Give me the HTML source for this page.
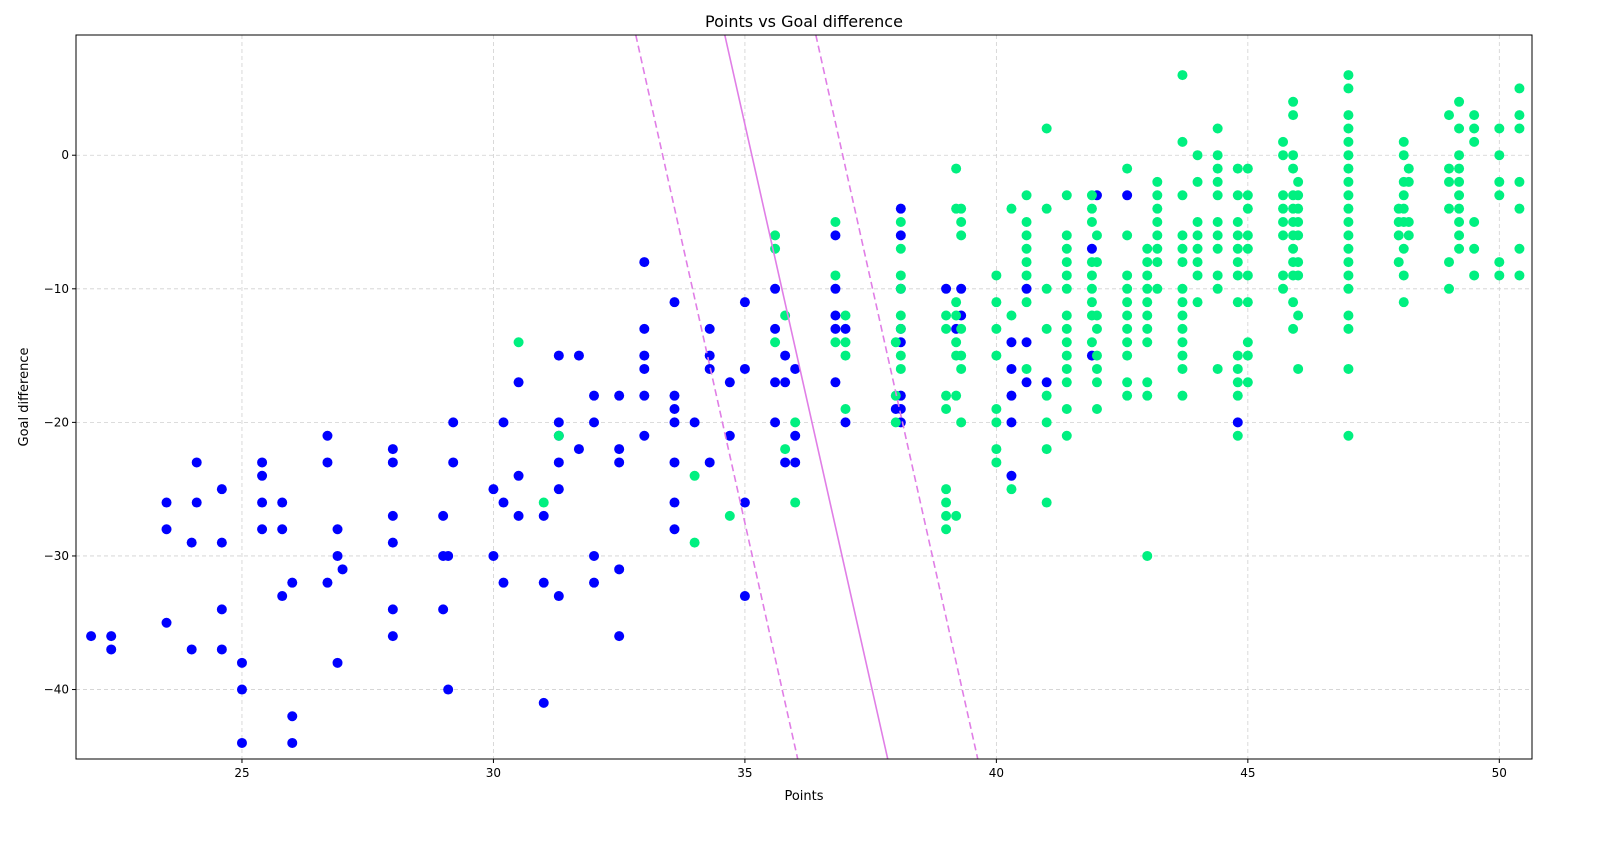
<!DOCTYPE html>
<html><head><meta charset="utf-8"><style>
html,body{margin:0;padding:0;background:#fff;}
svg{display:block;font-family:"DejaVu Sans","Liberation Sans",sans-serif;}
</style></head><body>
<svg id="chart" width="1601" height="842" viewBox="0 0 1601 842" xmlns="http://www.w3.org/2000/svg">
<text x="804" y="27" font-size="16" text-anchor="middle">Points vs Goal difference</text>
<text x="804" y="800" font-size="13" text-anchor="middle">Points</text>
<text transform="translate(28,397) rotate(-90)" font-size="13" text-anchor="middle">Goal difference</text>
<g id="grid"></g>
<g id="ticks"></g>
<g id="blue"></g>
<g id="green"></g>
<g id="lines"></g>
<rect x="76" y="35" width="1456" height="724" fill="none" stroke="#000" stroke-width="1"/>
</svg>
<script>
const xTicks=[25,30,35,40,45,50];
const yTicks=[0,-10,-20,-30,-40];
const bluePts=[[22,-36],[22.4,-36],[22.4,-37],[23.5,-26],[23.5,-28],[23.5,-35],[24,-29],[24,-37],[24.1,-23],[24.1,-26],[24.6,-25],[24.6,-29],[24.6,-34],[24.6,-37],[25,-38],[25,-40],[25,-44],[25.4,-23],[25.4,-24],[25.4,-26],[25.4,-28],[25.8,-26],[25.8,-28],[25.8,-33],[26,-32],[26,-42],[26,-44],[26.7,-21],[26.7,-23],[26.7,-32],[26.9,-28],[26.9,-30],[26.9,-38],[27,-31],[28,-27],[28,-22],[28,-23],[28,-29],[28,-34],[28,-36],[29,-27],[29,-30],[29,-34],[29.1,-30],[29.1,-40],[29.2,-20],[29.2,-23],[30,-25],[30,-30],[30.2,-20],[30.2,-26],[30.2,-32],[30.5,-17],[30.5,-24],[30.5,-27],[31,-27],[31,-32],[31,-41],[31.3,-15],[31.3,-20],[31.3,-21],[31.3,-23],[31.3,-25],[31.3,-33],[31.7,-15],[31.7,-22],[32,-18],[32,-20],[32,-30],[32,-32],[32.5,-18],[32.5,-22],[32.5,-23],[32.5,-31],[32.5,-36],[33,-8],[33,-13],[33,-15],[33,-16],[33,-18],[33,-21],[33.6,-11],[33.6,-18],[33.6,-19],[33.6,-20],[33.6,-23],[33.6,-26],[33.6,-28],[34,-20],[34.3,-13],[34.3,-15],[34.3,-16],[34.3,-23],[34.7,-17],[34.7,-21],[35,-11],[35,-16],[35,-26],[35,-33],[35.6,-10],[35.6,-13],[35.6,-17],[35.6,-20],[35.8,-15],[35.8,-17],[35.8,-23],[36,-16],[36,-21],[36,-23],[36.8,-6],[36.8,-10],[36.8,-12],[36.8,-13],[36.8,-17],[37,-13],[37,-20],[38,-19],[38.1,-4],[38.1,-6],[38.1,-10],[38.1,-13],[38.1,-14],[38.1,-18],[38.1,-19],[38.1,-20],[39,-10],[39.2,-13],[39.3,-10],[39.3,-12],[40.3,-16],[40.3,-18],[40.3,-20],[40.3,-24],[40.3,-14],[40.6,-10],[40.6,-14],[40.6,-17],[41,-17],[41.9,-7],[41.9,-15],[42,-3],[42.6,-3],[44.8,-20]];
const greenX=[30.5,31,31.3,34,34.7,35.6,35.8,36,36.8,37,38,38.1,39,39.2,39.3,40,40.3,40.6,41,41.4,41.9,42,42.6,43,43.2,43.7,44,44.4,44.8,45,45.7,45.9,46,47,48,48.1,48.2,49,49.2,49.5,50,50.4];
const greenY=[[-14],[-26],[-21],[-24,-29],[-27],[-6,-7,-14],[-12,-22],[-20,-26],[-5,-9,-14],[-12,-14,-15,-19],[-14,-18,-20],[-5,-7,-9,-10,-12,-13,-15,-16],[-12,-13,-18,-19,-25,-26,-27,-28],[-1,-4,-11,-12,-14,-15,-18,-27],[-4,-5,-6,-13,-15,-16,-20],[-9,-11,-13,-15,-19,-20,-22,-23],[-4,-12,-25],[-3,-5,-6,-7,-8,-9,-11,-16],[2,-4,-10,-13,-18,-20,-22,-26],[-3,-6,-7,-8,-9,-10,-12,-13,-14,-15,-16,-17,-19,-21],[-3,-4,-5,-8,-9,-10,-11,-12,-14],[-6,-8,-12,-13,-15,-16,-17,-19],[-1,-6,-9,-10,-11,-12,-13,-14,-15,-17,-18],[-7,-8,-9,-10,-11,-12,-13,-14,-17,-18,-30],[-2,-3,-4,-5,-6,-7,-8,-10],[6,1,-3,-6,-7,-8,-10,-11,-12,-13,-14,-15,-16,-18],[0,-2,-5,-6,-7,-8,-9,-11],[2,0,-1,-2,-3,-5,-6,-7,-9,-10,-16],[-1,-3,-5,-6,-7,-8,-9,-11,-15,-16,-17,-18,-21],[-1,-3,-4,-6,-7,-9,-11,-14,-15,-17],[1,0,-3,-4,-5,-6,-9,-10],[4,3,0,-1,-3,-4,-5,-6,-7,-8,-9,-11,-13],[-2,-3,-4,-5,-6,-8,-9,-12,-16],[6,5,3,2,1,0,-1,-2,-3,-4,-5,-6,-7,-8,-9,-10,-12,-13,-16,-21],[-4,-5,-6,-8],[1,0,-2,-3,-4,-5,-7,-9,-11],[-1,-2,-5,-6],[3,-1,-2,-4,-8,-10],[4,2,0,-1,-2,-3,-4,-5,-6,-7],[3,2,1,-5,-7,-9],[2,0,-2,-3,-8,-9],[5,3,2,-2,-4,-7,-9]];
const lineSolid=[[34.6,9],[37.84,-45.2]];
const lineDashLeft=[[32.83,9],[36.05,-45.2]];
const lineDashRight=[[36.41,9],[39.63,-45.2]];

const NS="http://www.w3.org/2000/svg";
const X0=21.7,X1=50.65,Y0=-45.2,Y1=9,L=76,R=1532,T=35,B=759;
const sx=v=>L+(v-X0)/(X1-X0)*(R-L);
const sy=v=>B-(v-Y0)/(Y1-Y0)*(B-T);
function mk(tag,attrs,parent){const e=document.createElementNS(NS,tag);for(const k in attrs)e.setAttribute(k,attrs[k]);parent.appendChild(e);return e;}
const grid=document.getElementById('grid'),ticks=document.getElementById('ticks');
xTicks.forEach(t=>{const x=sx(t);
 const g=mk('line',{x1:x,x2:x,y1:T,y2:B,stroke:'#d0d0d0','stroke-dasharray':'4,3','stroke-width':0.8},grid);
 
 
 const tk=mk('line',{x1:x,x2:x,y1:B,y2:B+4,stroke:'#000'},ticks);
 
 
 const tx=mk('text',{x:x,y:B+18,'font-size':12,'text-anchor':'middle'},ticks);tx.textContent=t;
 
 });
yTicks.forEach(t=>{const y=sy(t);
 const g=mk('line',{x1:L,x2:R,y1:y,y2:y,stroke:'#d0d0d0','stroke-dasharray':'4,3','stroke-width':0.8},grid);
 
 
 const tk=mk('line',{x1:L-4,x2:L,y1:y,y2:y,stroke:'#000'},ticks);
 
 
 const tx=mk('text',{x:L-7,y:y+4,'font-size':12,'text-anchor':'end'},ticks);tx.textContent=t<0?'\u2212'+(-t):t;
 
 });
const bg=document.getElementById('blue');
bluePts.forEach(p=>{const c=mk('circle',{cx:sx(p[0]),cy:sy(p[1]),r:5,fill:'#0000ff'},bg);
 
 });
const gg=document.getElementById('green');
greenX.forEach((x,i)=>greenY[i].forEach(y=>{const c=mk('circle',{cx:sx(x),cy:sy(y),r:5,fill:'#00f080'},gg);
 
 }));
const lg=document.getElementById('lines');
[[lineSolid,null,'decision-line'],[lineDashLeft,'7,4','margin-line-left'],[lineDashRight,'7,4','margin-line-right']].forEach(([ln,d,n])=>{
 const a={x1:sx(ln[0][0]),y1:sy(ln[0][1]),x2:sx(ln[1][0]),y2:sy(ln[1][1]),stroke:'#e07ee6','stroke-width':1.6};
 if(d)a['stroke-dasharray']=d;
 const e=mk('line',a,lg);
 
 });
</script>
</body></html>
